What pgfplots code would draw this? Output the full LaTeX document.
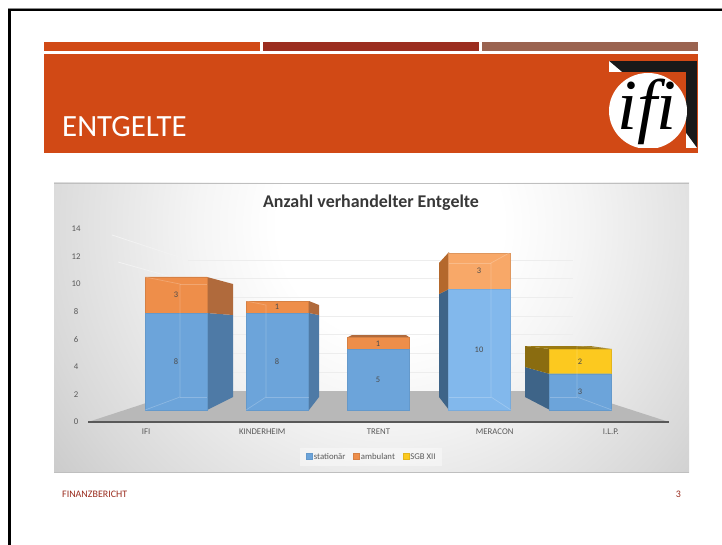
\documentclass[border=0pt]{standalone}
\usepackage{pgfplots}
\pgfplotsset{compat=1.18}
\usepackage{fontspec}
\setmainfont{Carlito}
\newfontfamily\logofont{Liberation Serif}
\pgfdeclareradialshading{chartbg}{\pgfpointorigin}{color(0bp)=(white);color(7bp)=(white);color(12bp)=(black!4);color(22bp)=(black!15);color(29bp)=(black!24);color(36bp)=(black!32);color(50bp)=(black!40)}
\definecolor{hdr}{HTML}{D14915}
\definecolor{hdrb}{HTML}{9B2D1F}
\definecolor{hdrc}{HTML}{9A6350}
\definecolor{blueF}{HTML}{6CA4DA}
\definecolor{blueM}{HTML}{82B8EC}
\definecolor{orF}{HTML}{EE8E4A}
\definecolor{orM}{HTML}{F8A868}
\definecolor{yeF}{HTML}{FCC91F}
\definecolor{blueS}{HTML}{4E7AA6}
\definecolor{blueD}{HTML}{3E6488}
\definecolor{orS}{HTML}{B06A3C}
\definecolor{orD}{HTML}{B4682C}
\definecolor{yeS}{HTML}{8A6C10}
\definecolor{txt}{HTML}{595959}
\begin{document}
\begin{tikzpicture}[x=1bp,y=1bp]
\path[use as bounding box] (0,0) rectangle (722,-545);
\fill[white] (0,0) rectangle (722,-545);
% slide frame
\fill[black!45] (8,-8) rectangle (722,-10);
\fill[black] (8,-9) rectangle (722,-11);
\fill[black] (8,-9) rectangle (10.5,-545);
% header
\fill[hdr] (44,-42) rectangle (260,-51);
\fill[hdrb] (263,-42) rectangle (479,-51);
\fill[hdrc] (482,-42) rectangle (698,-51);
\fill[hdr] (44,-54) rectangle (698,-153);
\node[anchor=base west,text=white,inner sep=0pt,font=\fontsize{31}{31}\selectfont] at (62,-137) {ENTGELTE};
% logo
\fill[black!90] (609,-61) rectangle (697,-148);
\fill[white] (609,-61) -- (609,-72) -- (622,-72) -- cycle;
\fill[hdr] (609,-72) rectangle (686,-148);
\fill[white] (686,-133) -- (697,-148) -- (686,-148) -- cycle;
\begin{scope}
\clip (609,-72) rectangle (690,-148);
\fill[white] (648,-111) ellipse (39 and 38);
\end{scope}
\node[text=black,inner sep=0pt,font=\logofont\itshape\fontsize{72}{72}\selectfont] at (647,-112) {ifi};
% chart background
\begin{scope}
\clip (54,-183) rectangle (689,-472);
\shade[shading=chartbg] (390-400,-225+400) rectangle (390+400,-225-400);
\end{scope}
\draw[black!25,line width=.6bp] (54,-183) -- (689,-183);
\draw[black!25,line width=.6bp] (54,-472) -- (689,-472);
\node[anchor=center,inner sep=0pt,text=black!78,font=\bfseries\fontsize{18}{18}\selectfont] at (371,-203) {Anzahl verhandelter Entgelte};

% pixel-space axis: floor, wall grid, bar depth faces
\begin{axis}[at={(0bp,-545bp)},anchor=south west,scale only axis,width=722bp,height=545bp,
  xmin=0,xmax=722,ymin=0,ymax=545,y dir=reverse,hide axis,clip=false]
\addplot[fill=black!28,draw=none] coordinates {(88,422) (183,391) (573,391) (669,422)} -- cycle;
\addplot[draw=black!7,line width=.8bp] coordinates {(188,260) (573,260)};
\addplot[draw=black!7,line width=.8bp] coordinates {(175,278) (573,278)};
\addplot[draw=black!7,line width=.8bp] coordinates {(188,297) (573,297)};
\addplot[draw=black!7,line width=.8bp] coordinates {(188,316) (573,316)};
\addplot[draw=black!7,line width=.8bp] coordinates {(188,334) (573,334)};
\addplot[draw=black!7,line width=.8bp] coordinates {(188,353) (573,353)};
\addplot[draw=black!7,line width=.8bp] coordinates {(188,372) (573,372)};
\addplot[draw=black!5,line width=.8bp] coordinates {(112,235) (188,260)};
\addplot[draw=black!5,line width=.8bp] coordinates {(118,262) (175,278)};
% IFI
\addplot[fill=blueS,draw=none] coordinates {(207,313) (233,315) (233,397) (207,410)} -- cycle;
\addplot[fill=orS,draw=none] coordinates {(207,277) (233,284) (233,315) (207,313)} -- cycle;
% Kinderheim
\addplot[fill=blueS,draw=none] coordinates {(309,313) (319,315) (319,397) (309,410)} -- cycle;
\addplot[fill=orS,draw=none] coordinates {(309,301) (319,305) (319,315) (309,313)} -- cycle;
% Trent
\addplot[fill=orS,draw=none] coordinates {(348,337) (352,335) (406,335) (409,337)} -- cycle;
% Meracon
\addplot[fill=blueD,draw=none] coordinates {(449,289) (439,294) (439,397) (449,410)} -- cycle;
\addplot[fill=orD,draw=none] coordinates {(449,252) (439,263) (439,294) (449,289)} -- cycle;
% I.L.P.
\addplot[fill=blueD,draw=none] coordinates {(550,374) (525,367) (525,397) (550,410)} -- cycle;
\addplot[fill=yeS,draw=none] coordinates {(550,349) (525,346) (525,367) (550,374)} -- cycle;
\addplot[fill=yeS!85!yeF,draw=none] coordinates {(550,349) (525,346) (590,346) (612,349)} -- cycle;
\end{axis}

% frame axis: ticks, category labels, base line
\begin{axis}[at={(88bp,-422bp)},anchor=south west,scale only axis,width=581bp,height=193bp,
  xmin=-0.5,xmax=4.5,ymin=0,ymax=14,
  axis x line=bottom,axis y line=none,
  axis line style={draw=black!65,line width=1.3bp,-},
  xtick={0,1,2,3,4},xticklabels={IFI,KINDERHEIM,TRENT,MERACON,I.L.P.},
  major tick length=0pt,
  x tick label style={font=\fontsize{8.8}{9}\selectfont,text=txt,yshift=-3bp},
  clip=false]
\addplot[draw=none] coordinates {(0,0)};
\end{axis}
\begin{axis}[at={(88bp,-422bp)},anchor=south west,scale only axis,width=581bp,height=193bp,
  xmin=-0.5,xmax=4.5,ymin=0,ymax=14,
  axis y line=left,axis x line=none,axis line style={draw=none},
  ytick={0,2,4,6,8,10,12,14},major tick length=0pt,
  /pgf/number format/assume math mode=true,
  y tick label style={font=\fontsize{8.8}{9}\selectfont,text=txt,anchor=center,xshift=-12bp}]
\addplot[draw=none] coordinates {(0,0)};
\end{axis}

% front faces of the stacked bars
\begin{axis}[at={(75bp,-410bp)},anchor=south west,scale only axis,width=606bp,height=169.4bp,
  xmin=-1,xmax=5,ymin=0,ymax=14,hide axis,clip=false,
  ybar stacked,bar width=62bp,
  legend columns=3,
  legend style={at={(0.489,-0.277)},anchor=center,draw=none,fill=white,fill opacity=.4,text opacity=1,
    font=\fontsize{8.8}{9}\selectfont,text=txt,inner xsep=6bp,inner ysep=3bp,
    nodes={inner xsep=.8bp,inner ysep=2bp},
    /tikz/every even column/.style={column sep=7bp}},
  legend image code/.code={\draw[#1,draw opacity=1,fill opacity=1,line width=.6bp] (0,-.28em) rectangle (.62em,.36em);}]
\addplot[fill=blueF,draw=blueF!93!black,line width=.3bp] coordinates {(0,8) (1,8) (2,5) (3,0) (4,3)};
\addlegendentry{stationär}
\addplot[forget plot,fill=blueM,draw=blueM!93!black,line width=.3bp] coordinates {(0,0) (1,0) (2,0) (3,10) (4,0)};
\addplot[fill=orF,draw=orF!90!black,line width=.3bp] coordinates {(0,3) (1,1) (2,1) (3,0) (4,0)};
\addlegendentry{ambulant}
\addplot[forget plot,fill=orM,draw=orM!90!black,line width=.3bp] coordinates {(0,0) (1,0) (2,0) (3,3) (4,0)};
\addplot[fill=yeF,draw=yeF!90!black,line width=.3bp] coordinates {(0,0) (1,0) (2,0) (3,0) (4,2)};
\addlegendentry{SGB XII}
\end{axis}

% inner edges of the translucent boxes, seen through the front faces
\begin{axis}[at={(0bp,-545bp)},anchor=south west,scale only axis,width=722bp,height=545bp,
  xmin=0,xmax=722,ymin=0,ymax=545,y dir=reverse,hide axis,clip=false]
\addplot[draw=white,draw opacity=.22,line width=.7bp] coordinates {(145,277) (180,284) (180,397) (145,410)};
\addplot[draw=white,draw opacity=.22,line width=.7bp] coordinates {(180,284) (207,284)};
\addplot[draw=white,draw opacity=.22,line width=.7bp] coordinates {(180,397) (207,397)};
\addplot[draw=white,draw opacity=.22,line width=.7bp] coordinates {(246,301) (266,305) (266,397) (246,410)};
\addplot[draw=white,draw opacity=.22,line width=.7bp] coordinates {(266,397) (309,397)};
\addplot[draw=white,draw opacity=.22,line width=.7bp] coordinates {(511,252) (491,263) (491,397) (511,410)};
\addplot[draw=white,draw opacity=.22,line width=.7bp] coordinates {(449,263) (491,263)};
\addplot[draw=white,draw opacity=.22,line width=.7bp] coordinates {(449,397) (491,397)};
\addplot[draw=white,draw opacity=.22,line width=.7bp] coordinates {(612,349) (577,346) (577,397) (612,410)};
\addplot[draw=white,draw opacity=.22,line width=.7bp] coordinates {(550,397) (577,397)};
\end{axis}

% data labels
\begin{axis}[at={(75bp,-410bp)},anchor=south west,scale only axis,width=606bp,height=169.4bp,
  xmin=-1,xmax=5,ymin=0,ymax=14,hide axis,clip=false]
\addplot[draw=none,mark=none,point meta=explicit symbolic,nodes near coords,
  every node near coord/.style={anchor=center,inner sep=0pt,font=\fontsize{8.5}{9}\selectfont,text=black!70}]
  coordinates {(0,4) [8] (0,9.5) [3] (1,4) [8] (1,8.5) [1] (2,2.5) [5] (2,5.5) [1] (3,5) [10] (3,11.5) [3] (4,1.5) [3] (4,4) [2]};
\end{axis}

% footer
\node[anchor=base west,inner sep=0pt,text=hdrb,font=\fontsize{10}{10}\selectfont] at (62,-497) {FINANZBERICHT};
\node[anchor=base east,inner sep=0pt,text=hdrb,font=\fontsize{10}{10}\selectfont] at (681,-497) {3};
\end{tikzpicture}
\end{document}
